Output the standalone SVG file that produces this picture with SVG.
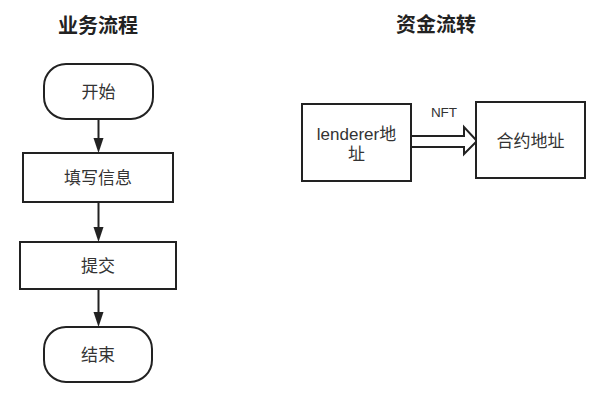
<svg xmlns="http://www.w3.org/2000/svg" width="609" height="402" viewBox="0 0 609 402">
<style>
text{font-family:"Liberation Sans","Noto Sans CJK SC",sans-serif;fill:#333;text-anchor:middle;dominant-baseline:central}
.title{font-size:20px;font-weight:bold;fill:#222}
.lbl{font-size:17px}
.box{fill:#fff;stroke:#222;stroke-width:2}
.edge{stroke:#222;stroke-width:2;fill:none}
.head{fill:#222}
</style>
<rect width="609" height="402" fill="#fff"/>
<text class="title" x="98" y="26">业务流程</text>
<text class="title" x="436" y="25">资金流转</text>
<g id="connectors">
<path class="edge" d="M98.5,119 V139"/>
<path class="head" d="M93.5,138 L103.5,138 L98.5,153 Z"/>
<path class="edge" d="M98.5,202 V228"/>
<path class="head" d="M93.5,227 L103.5,227 L98.5,242 Z"/>
<path class="edge" d="M98.5,289 V313"/>
<path class="head" d="M93.5,312 L103.5,312 L98.5,327 Z"/>
<path d="M411,136 L464,136 L464,127 L477,141 L464,154 L464,147 L411,147" fill="#fff" stroke="#222" stroke-width="2"/>
<text x="444" y="112" style="font-size:13.5px">NFT</text>
</g>
<g id="start">
<rect class="box" x="44" y="64" width="109" height="55" rx="22"/>
<text class="lbl" x="98.5" y="92">开始</text>
</g>
<g id="fill">
<rect class="box" x="23" y="153" width="150" height="49"/>
<text class="lbl" x="98" y="178">填写信息</text>
</g>
<g id="submit">
<rect class="box" x="20" y="242" width="156" height="47"/>
<text class="lbl" x="98" y="266">提交</text>
</g>
<g id="end">
<rect class="box" x="44" y="327" width="108" height="55" rx="22"/>
<text class="lbl" x="98" y="355">结束</text>
</g>
<g id="lender">
<rect class="box" x="302" y="104" width="109" height="77"/>
<text class="lbl" x="356.5" y="134">lenderer地</text>
<text class="lbl" x="356.5" y="154">址</text>
</g>
<g id="contract">
<rect class="box" x="476" y="102" width="109" height="76"/>
<text class="lbl" x="530.5" y="141">合约地址</text>
</g>
</svg>
